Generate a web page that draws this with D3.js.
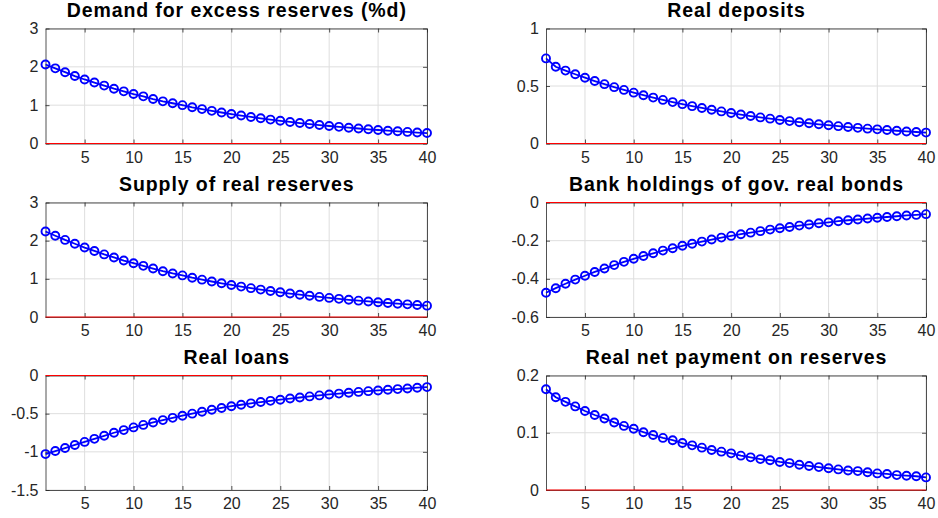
<!DOCTYPE html>
<html><head><meta charset="utf-8">
<script src="https://cdn.jsdelivr.net/npm/d3@7"></script>
<style>
body{margin:0;background:#fff;}
svg{display:block;}
</style></head>
<body>
<svg id="chart" width="938" height="518"></svg>
<script>
const periods = d3.range(1, 41);
const xTicks = [5,10,15,20,25,30,35,40];

const titles = [
  "Demand for excess reserves (%d)",
  "Real deposits",
  "Supply of real reserves",
  "Bank holdings of gov. real bonds",
  "Real loans",
  "Real net payment on reserves"
];

const demandExcessReserves = [2.06,1.96,1.86,1.76,1.67,1.59,1.51,1.43,1.36,1.29,1.23,1.16,1.10,1.05,1.00,0.945,0.897,0.852,0.809,0.768,0.729,0.692,0.657,0.624,0.592,0.562,0.534,0.507,0.481,0.457,0.434,0.412,0.391,0.371,0.352,0.334,0.318,0.302,0.286,0.272];
const realDeposits = [0.74,0.667,0.634,0.602,0.572,0.543,0.516,0.490,0.466,0.442,0.420,0.399,0.379,0.360,0.342,0.325,0.309,0.293,0.279,0.265,0.252,0.239,0.227,0.216,0.205,0.195,0.185,0.176,0.167,0.159,0.151,0.143,0.136,0.129,0.123,0.117,0.111,0.105,0.100,0.095];
const supplyRealReserves = [2.24,2.13,2.02,1.92,1.82,1.73,1.64,1.56,1.48,1.41,1.34,1.27,1.20,1.14,1.09,1.03,0.979,0.930,0.883,0.839,0.796,0.756,0.718,0.682,0.648,0.615,0.584,0.555,0.527,0.500,0.475,0.451,0.428,0.407,0.386,0.367,0.348,0.331,0.314,0.298];
const bankGovBonds = [-0.473,-0.449,-0.426,-0.404,-0.384,-0.364,-0.346,-0.328,-0.311,-0.295,-0.280,-0.266,-0.252,-0.240,-0.227,-0.216,-0.205,-0.194,-0.184,-0.175,-0.166,-0.158,-0.150,-0.142,-0.135,-0.128,-0.121,-0.115,-0.109,-0.104,-0.098,-0.093,-0.089,-0.084,-0.080,-0.076,-0.072,-0.068,-0.065,-0.061];
const realLoans = [-1.03,-0.99,-0.95,-0.91,-0.87,-0.83,-0.79,-0.75,-0.715,-0.68,-0.647,-0.615,-0.584,-0.555,-0.527,-0.50,-0.474,-0.449,-0.425,-0.402,-0.383,-0.365,-0.348,-0.332,-0.317,-0.302,-0.288,-0.274,-0.261,-0.248,-0.237,-0.226,-0.215,-0.205,-0.196,-0.187,-0.178,-0.17,-0.16,-0.152];
const netPaymentReserves = [0.176,0.162,0.154,0.146,0.138,0.131,0.125,0.118,0.112,0.107,0.101,0.096,0.091,0.087,0.082,0.078,0.074,0.070,0.067,0.064,0.060,0.057,0.054,0.052,0.049,0.047,0.044,0.042,0.040,0.038,0.036,0.034,0.033,0.031,0.029,0.028,0.026,0.025,0.024,0.022];

const seriesList = [demandExcessReserves, realDeposits, supplyRealReserves, bankGovBonds, realLoans, netPaymentReserves];

const yDomains = [[0,3],[0,1],[0,3],[-0.6,0],[-1.5,0],[0,0.2]];
const yTickLists = [
  [0,1,2,3],
  [0,0.5,1],
  [0,1,2,3],
  [-0.6,-0.4,-0.2,0],
  [-1.5,-1,-0.5,0],
  [0,0.1,0.2]
];

// layout
const cols = [[45.5,427],[546,926]];
const rows = [[28.5,143.5],[202.5,317],[375.5,490]];

const svg = d3.select("#chart");
const axisColor = "#262626";
const fontFam = "'Liberation Sans', Arial, Helvetica, sans-serif";

seriesList.forEach((vals, i) => {
  const c = cols[i % 2], r = rows[Math.floor(i / 2)];
  const x = d3.scaleLinear().domain([1,40]).range([c[0], c[1]]);
  const y = d3.scaleLinear().domain(yDomains[i]).range([r[1], r[0]]);
  const g = svg.append("g");

  // grid
  g.selectAll(".vg").data(xTicks).enter().append("line")
    .attr("x1", d => x(d)).attr("x2", d => x(d))
    .attr("y1", r[0]).attr("y2", r[1])
    .attr("stroke", "#dedede").attr("stroke-width", 1);
  g.selectAll(".hg").data(yTickLists[i]).enter().append("line")
    .attr("x1", c[0]).attr("x2", c[1])
    .attr("y1", d => y(d)).attr("y2", d => y(d))
    .attr("stroke", "#dedede").attr("stroke-width", 1);

  // axes with inward ticks
  const tl = 4;
  const xb = d3.axisBottom(x).tickValues(xTicks).tickSizeInner(-tl).tickSizeOuter(0).tickPadding(8);
  const xt = d3.axisTop(x).tickValues(xTicks).tickSizeInner(-tl).tickSizeOuter(0).tickFormat("");
  const yl = d3.axisLeft(y).tickValues(yTickLists[i]).tickSizeInner(-tl).tickSizeOuter(0).tickPadding(7).tickFormat(d => String(d));
  const yr = d3.axisRight(y).tickValues(yTickLists[i]).tickSizeInner(-tl).tickSizeOuter(0).tickFormat("");

  [[xb,`translate(0,${r[1]})`],[xt,`translate(0,${r[0]})`],[yl,`translate(${c[0]},0)`],[yr,`translate(${c[1]},0)`]].forEach(([ax,tr]) => {
    const a = g.append("g").attr("transform", tr).call(ax);
    a.select(".domain").attr("stroke", axisColor).attr("stroke-width", 0.8);
    a.selectAll(".tick line").attr("stroke", axisColor).attr("stroke-width", 0.8);
    a.selectAll("text").attr("fill", axisColor).style("font-family", fontFam).style("font-size", "16px");
  });

  // zero line
  g.append("line")
    .attr("x1", x(1)).attr("x2", x(40))
    .attr("y1", y(0)).attr("y2", y(0))
    .attr("stroke", "#ff0000").attr("stroke-width", 1.2);

  // series line
  const line = d3.line().x((d, k) => x(periods[k])).y(d => y(d));
  g.append("path").datum(vals).attr("d", line)
    .attr("fill", "none").attr("stroke", "#0000ff").attr("stroke-width", 1.8);
  g.selectAll(".pt").data(vals).enter().append("circle")
    .attr("cx", (d, k) => x(periods[k])).attr("cy", d => y(d)).attr("r", 4)
    .attr("fill", "none").attr("stroke", "#0000ff").attr("stroke-width", 1.9);

  // title
  g.append("text")
    .attr("x", (c[0] + c[1]) / 2 + 0.5).attr("y", r[0] - 12)
    .attr("text-anchor", "middle")
    .style("font-family", fontFam).style("font-weight", "bold").style("font-size", "19.5px")
    .style("letter-spacing", "0.9px")
    .attr("fill", "#000")
    .text(titles[i]);
});
</script>
</body></html>
